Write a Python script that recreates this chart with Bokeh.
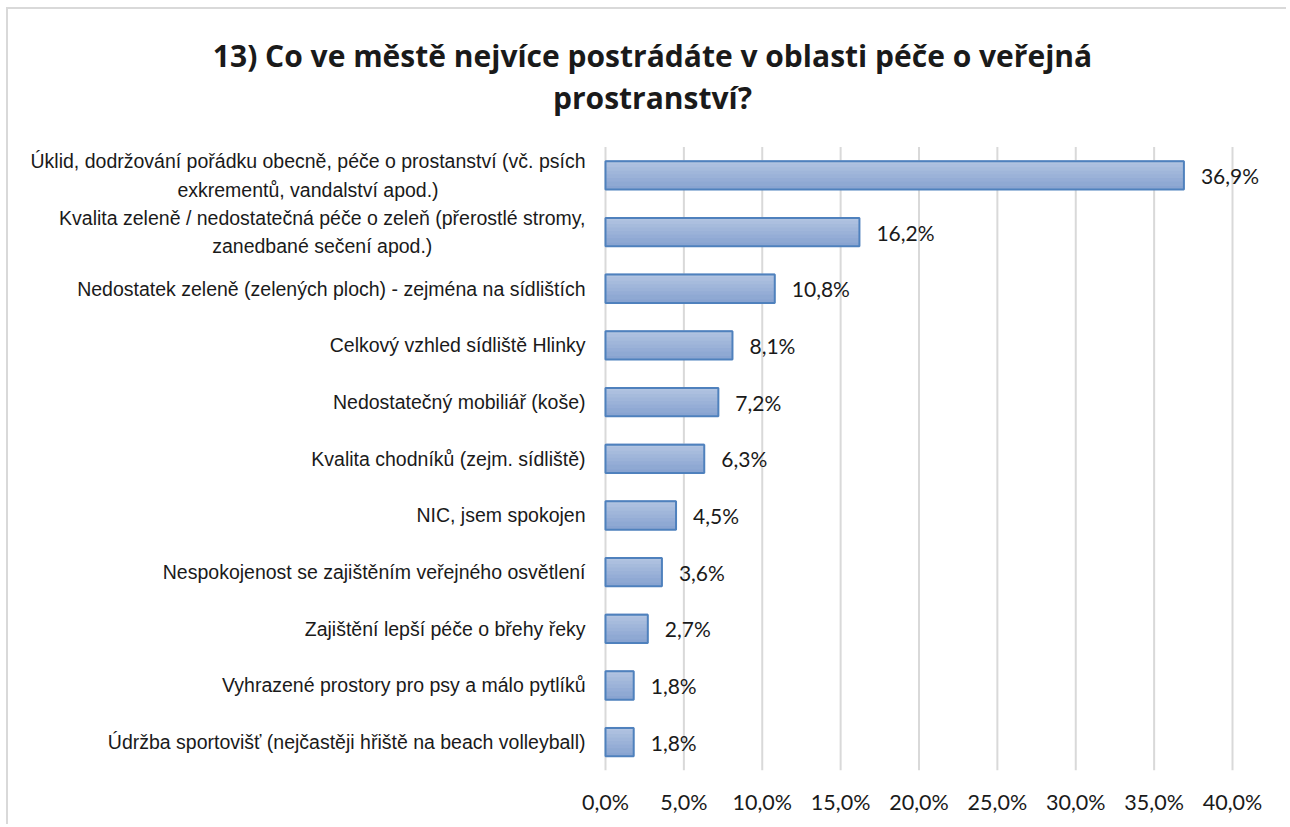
from bokeh.plotting import figure
from bokeh.models import Range1d, FixedTicker, LabelSet, Label, ColumnDataSource
from bokeh.core.properties import value
from bokeh.transform import dodge
from bokeh.embed import file_html
from bokeh.resources import INLINE

title_text = "13) Co ve městě nejvíce postrádáte v oblasti péče o veřejná\nprostranství?"
categories = [
    "Úklid, dodržování pořádku obecně, péče o prostanství (vč. psích\nexkrementů, vandalství apod.)",
    "Kvalita zeleně / nedostatečná péče o zeleň (přerostlé stromy,\nzanedbané sečení apod.)",
    "Nedostatek zeleně (zelených ploch) - zejména na sídlištích",
    "Celkový vzhled sídliště Hlinky",
    "Nedostatečný mobiliář (koše)",
    "Kvalita chodníků (zejm. sídliště)",
    "NIC, jsem spokojen",
    "Nespokojenost se zajištěním veřejného osvětlení",
    "Zajištění lepší péče o břehy řeky",
    "Vyhrazené prostory pro psy a málo pytlíků",
    "Údržba sportovišť (nejčastěji hřiště na beach volleyball)",
]
values = [36.9, 16.2, 10.8, 8.1, 7.2, 6.3, 4.5, 3.6, 2.7, 1.8, 1.8]
value_labels = ["36,9%", "16,2%", "10,8%", "8,1%", "7,2%", "6,3%", "4,5%", "3,6%", "2,7%", "1,8%", "1,8%"]
tick_values = [0, 5, 10, 15, 20, 25, 30, 35, 40]
tick_labels = ["0,0%", "5,0%", "10,0%", "15,0%", "20,0%", "25,0%", "30,0%", "35,0%", "40,0%"]

n = len(categories)
ypos = [n - i for i in range(n)]
src = ColumnDataSource(dict(y=ypos, v=values, lab=value_labels, cat=categories))

# layout (canvas pixels)
W, H = 1280, 817
BOTTOM = 56
FH = H - BOTTOM
PX0, PX40 = 597, 1224
TOP = 137.6
s = (PX40 - PX0) / 40.0
x_start, x_end = -PX0 / s, (W - PX0) / s
band = (FH - TOP) / n
y_start, y_end = 0.5, n + 0.5 + TOP / band

p = figure(width=W, height=H, output_backend="svg", toolbar_location=None,
           x_range=Range1d(x_start, x_end), y_range=Range1d(y_start, y_end),
           min_border_left=0, min_border_right=0, min_border_top=0, min_border_bottom=BOTTOM)
p.margin = (7, 0, 0, 6)
p.styles = {"border-left": "2px solid #d9d9d9", "border-top": "2px solid #d9d9d9"}
p.outline_line_color = None
p.background_fill_color = "white"
p.border_fill_color = "white"

p.yaxis.visible = False
p.xgrid.grid_line_color = None
p.ygrid.grid_line_color = None
p.xaxis.ticker = FixedTicker(ticks=tick_values)
p.xaxis.major_label_overrides = {t: l for t, l in zip(tick_values, tick_labels)}
p.xaxis.axis_line_color = None
p.xaxis.major_tick_line_color = None
p.xaxis.minor_tick_line_color = None
p.xaxis.major_tick_out = 0
p.xaxis.major_tick_in = 0
p.xaxis.major_label_standoff = 18
p.xaxis.major_label_text_font = "Lato"
p.xaxis.major_label_text_font_size = "21.5px"
p.xaxis.major_label_text_color = "#1a1a1a"

# vertical gridlines over the category band
p.segment(x0=tick_values, x1=tick_values, y0=[0.5] * len(tick_values),
          y1=[n + 0.5] * len(tick_values), line_color="#d9d9d9", line_width=2)

# gradient-like fill using strips
bar_h = 0.5
strips = 8
top_c = (0xb2, 0xc4, 0xe1)
bot_c = (0x89, 0xa4, 0xd1)
sh = bar_h / strips
for k in range(strips):
    t = k / (strips - 1)
    c = tuple(int(round(top_c[j] + (bot_c[j] - top_c[j]) * t)) for j in range(3))
    col = "#%02x%02x%02x" % c
    off = bar_h / 2 - sh / 2 - k * sh
    hh = sh * 1.6 if k < strips - 1 else sh
    p.hbar(y=dodge("y", off), left=0, right="v", height=hh, source=src,
           fill_color=col, line_color=None)
p.hbar(y="y", left=0, right="v", height=bar_h, source=src,
       fill_color=None, line_color="#4f81bd", line_width=2)

vl = LabelSet(x="v", y="y", text="lab", source=src, x_offset=17,
              text_baseline="middle", text_align="left",
              text_font=value("Lato"), text_font_size="21px", text_color="#1a1a1a")
p.add_layout(vl)

for cat, yy in zip(categories, ypos):
    lab = Label(x=0, y=yy, text=cat, x_offset=-20, anchor="center_right",
                text_align="center", text_baseline="middle",
                text_font="Liberation Sans", text_font_size="19.5px",
                text_color="#1a1a1a", text_line_height=1.28)
    p.add_layout(lab)

tl = Label(x=642, y=65, x_units="canvas", y_units="canvas", text=title_text,
           anchor="center", text_align="center", text_baseline="middle",
           text_font="Open Sans", text_font_style="bold", text_font_size="30px",
           text_color="#1a1a1a", text_line_height=1.03)
p.add_layout(tl)

open("out.html", "w").write(file_html(p, INLINE))
